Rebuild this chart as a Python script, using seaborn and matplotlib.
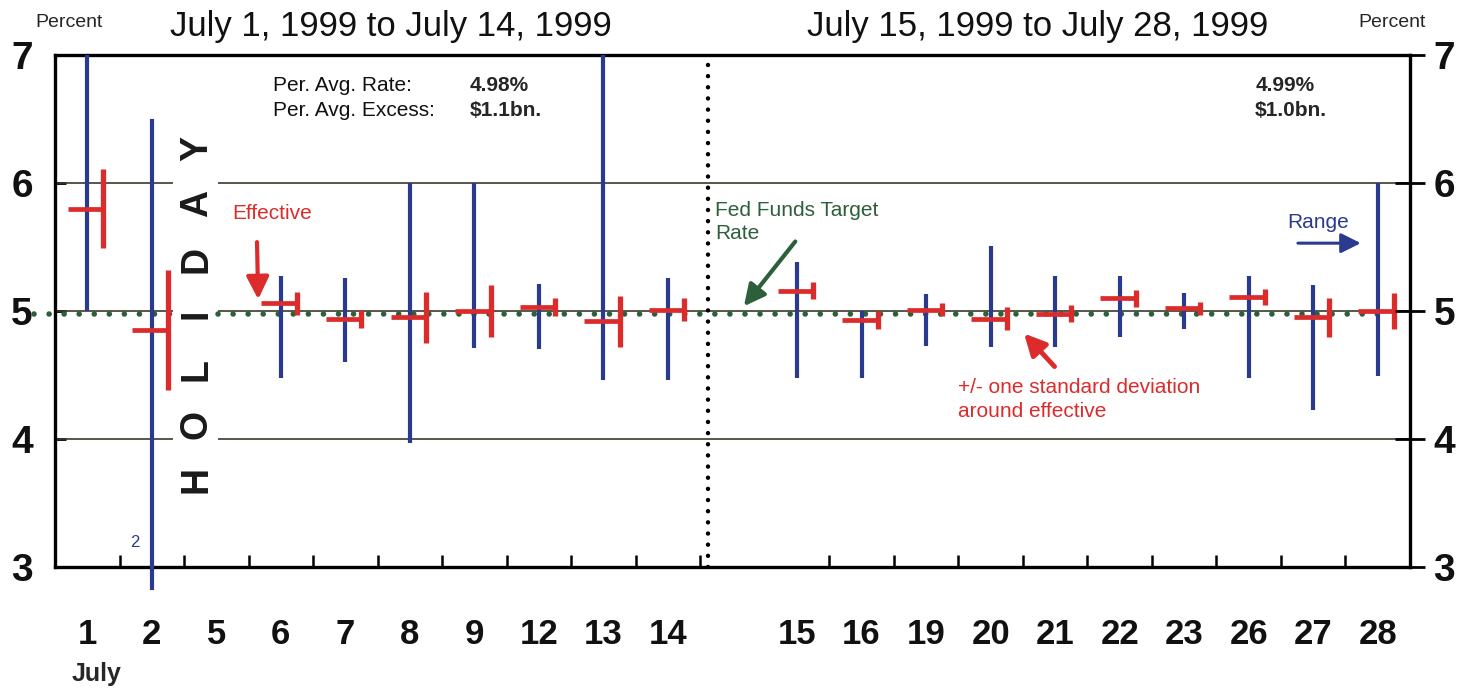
import numpy as np
import pandas as pd
import matplotlib
matplotlib.use("Agg")
import matplotlib.pyplot as plt
from matplotlib.patches import Rectangle
import seaborn as sns

# July 1999 business days, two 10-day periods (July 5 = holiday)
days_first = ['1', '2', '5', '6', '7', '8', '9', '12', '13', '14']
days_second = ['15', '16', '19', '20', '21', '22', '23', '26', '27', '28']

range_high = [7.00, 6.50, np.nan, 5.27, 5.26, 6.00, 6.00, 5.21, 7.00, 5.26,
              5.38, 5.00, 5.13, 5.51, 5.27, 5.27, 5.14, 5.27, 5.20, 6.00]
range_low = [5.00, 2.00, np.nan, 4.48, 4.60, 3.97, 4.71, 4.70, 4.46, 4.46,
             4.48, 4.48, 4.73, 4.72, 4.72, 4.80, 4.86, 4.48, 4.23, 4.49]
effective = [5.80, 4.85, np.nan, 5.06, 4.94, 4.95, 5.00, 5.03, 4.92, 5.01,
             5.16, 4.93, 5.01, 4.94, 4.98, 5.10, 5.02, 5.11, 4.95, 5.00]
std_dev = [0.31, 0.47, np.nan, 0.09, 0.07, 0.20, 0.20, 0.07, 0.20, 0.09,
           0.07, 0.07, 0.05, 0.09, 0.065, 0.065, 0.05, 0.065, 0.15, 0.14]
target_rate = 4.98

period_rate = ['4.98%', '4.99%']
period_excess = ['$1.1bn.', '$1.0bn.']
y_ticks = [3, 4, 5, 6, 7]

BLUE = '#2a3a8e'
RED = '#dc2b2b'
GREEN = '#2c5f3a'
GRID = '#3a3a2c'


def main():
    sns.set_theme(style='white')
    plt.rcParams['font.family'] = ['Liberation Sans', 'DejaVu Sans']

    # one empty slot between the two periods
    pos = np.r_[np.arange(len(days_first)), np.arange(len(days_second)) + len(days_first) + 1]
    df = pd.DataFrame({'day': days_first + days_second, 'pos': pos,
                       'high': range_high, 'low': range_low,
                       'eff': effective, 'sd': std_dev})
    data = df.dropna()

    fig = plt.figure(figsize=(14.7, 6.92), dpi=100)
    fig.patch.set_facecolor('white')
    ax = fig.add_axes([55 / 1470, 1 - 567 / 692, 1355 / 1470, 512 / 692])
    ax.set_xlim(-0.5, 20.5)
    ax.set_ylim(3, 7)
    ax.set_facecolor('white')

    # grid lines broken around the HOLIDAY lettering
    gap = (1.33, 2.03)
    for y in [4, 5, 6]:
        ax.hlines([y, y], [-0.5, gap[1]], [gap[0], 20.5], color=GRID, lw=1.2, zorder=1)
    tgt = ax.hlines([target_rate] * 2, [-0.83, gap[1]], [gap[0], 20.2], color=GREEN, lw=4,
                    linestyles=[(0, (0.01, 2.7))], zorder=2, clip_on=False)
    tgt.set_capstyle('round')
    sep = ax.vlines(9.62, 3, 7, color='black', lw=3.2, linestyles=[(0, (0.01, 2.5))], zorder=2)
    sep.set_capstyle('round')

    # range lines (July 2 low runs just past the axis)
    rng = ax.vlines(data['pos'], data['low'], data['high'], color=BLUE, lw=3, zorder=3)
    rng.set_clip_path(Rectangle((0, -0.045), 1, 1.045, transform=ax.transAxes))

    # effective rate and +/- one standard deviation
    ax.hlines(data['eff'], data['pos'] - 0.3, data['pos'] + 0.25, color=RED, lw=3.4, zorder=4)
    ax.vlines(data['pos'] + 0.25, data['eff'] - data['sd'], data['eff'] + data['sd'],
              color=RED, lw=3.8, zorder=4)

    ax.text(0.74, 3.19, '2', color=BLUE, fontsize=12, ha='center', va='center')

    # HOLIDAY lettering
    for letter, y in zip('HOLIDAY', np.linspace(3.68, 6.27, 7)):
        ax.text(1.70, y, letter, rotation=90, fontsize=27, fontweight='bold',
                ha='center', va='center', color='#1a1a1a')

    # axes, ticks and labels
    for s in ax.spines.values():
        s.set_visible(True)
        s.set_color('black')
        s.set_linewidth(2.4)
    bounds = [p + 0.5 for p in pos[:-1] if p != 9] + [9.5]
    ax.set_xticks(sorted(bounds))
    ax.set_xticklabels([])
    ax.set_xticks(pos, df['day'], minor=True)
    ax.tick_params(axis='x', which='major', direction='in', length=9, width=1.8,
                   bottom=True, color='black')
    ax.tick_params(axis='x', which='minor', length=0, pad=37, labelsize=25)
    for t in ax.get_xticklabels(minor=True):
        t.set_fontweight('bold')
        t.set_color('#111111')

    ax.set_yticks(y_ticks)
    ax.set_yticklabels([str(v) for v in y_ticks], fontsize=28, fontweight='bold',
                       color='#111111')
    ax.tick_params(axis='y', direction='in', length=8, width=2, left=True, pad=16,
                   color='black')

    ax2 = ax.twinx()
    ax2.set_ylim(3, 7)
    ax2.set_yticks(y_ticks)
    ax2.set_yticklabels([str(v) for v in y_ticks], fontsize=28, fontweight='bold',
                        color='#111111')
    ax2.tick_params(axis='y', direction='inout', length=22, width=2, right=True, pad=6,
                    color='black')
    for s in ax2.spines.values():
        s.set_visible(False)
    ax2.grid(False)
    ax.grid(False)

    # text annotations
    ax.text(2.88, 6.76, 'Per. Avg. Rate:', fontsize=15, va='center', color='#111111')
    ax.text(2.88, 6.57, 'Per. Avg. Excess:', fontsize=15, va='center', color='#111111')
    ax.text(5.93, 6.76, period_rate[0], fontsize=15, fontweight='bold', va='center')
    ax.text(5.93, 6.57, period_excess[0], fontsize=15, fontweight='bold', va='center')
    ax.text(18.1, 6.76, period_rate[1], fontsize=15, fontweight='bold', va='center')
    ax.text(18.1, 6.57, period_excess[1], fontsize=15, fontweight='bold', va='center')

    ax.text(2.86, 5.76, 'Effective', color=RED, fontsize=15, ha='center', va='center')
    ax.annotate('', xy=(2.65, 5.07), xytext=(2.63, 5.56),
                arrowprops=dict(arrowstyle='-|>', color=RED, lw=3, mutation_scale=34))

    ax.text(9.73, 5.86, 'Fed Funds Target\nRate', color=GREEN, fontsize=15,
            ha='left', va='top', linespacing=1.3)
    ax.annotate('', xy=(10.15, 5.02), xytext=(11.0, 5.56),
                arrowprops=dict(arrowstyle='-|>', color=GREEN, lw=3, mutation_scale=32))

    ax.text(19.08, 5.69, 'Range', color=BLUE, fontsize=15, ha='center', va='center')
    ax.annotate('', xy=(19.78, 5.53), xytext=(18.72, 5.53),
                arrowprops=dict(arrowstyle='-|>', color=BLUE, lw=2.2, mutation_scale=30))

    ax.text(13.5, 4.31, '+/- one standard deviation\naround effective', color=RED,
            fontsize=15, ha='left', va='center', linespacing=1.3)
    ax.annotate('', xy=(14.49, 4.84), xytext=(15.02, 4.55),
                arrowprops=dict(arrowstyle='-|>', color=RED, lw=3.5, mutation_scale=32))

    # titles and axis captions
    fig.text(0.266, 0.961, 'July 1, 1999 to July 14, 1999', fontsize=25,
             ha='center', va='center', color='#111111')
    fig.text(0.706, 0.961, 'July 15, 1999 to July 28, 1999', fontsize=25,
             ha='center', va='center', color='#111111')
    fig.text(0.047, 0.968, 'Percent', fontsize=14, ha='center', va='center')
    fig.text(0.947, 0.968, 'Percent', fontsize=14, ha='center', va='center')
    fig.text(0.066, 0.026, 'July', fontsize=18, fontweight='bold', ha='center', va='center')

    fig.savefig('out.png', dpi=100)


if __name__ == "__main__":
    main()
